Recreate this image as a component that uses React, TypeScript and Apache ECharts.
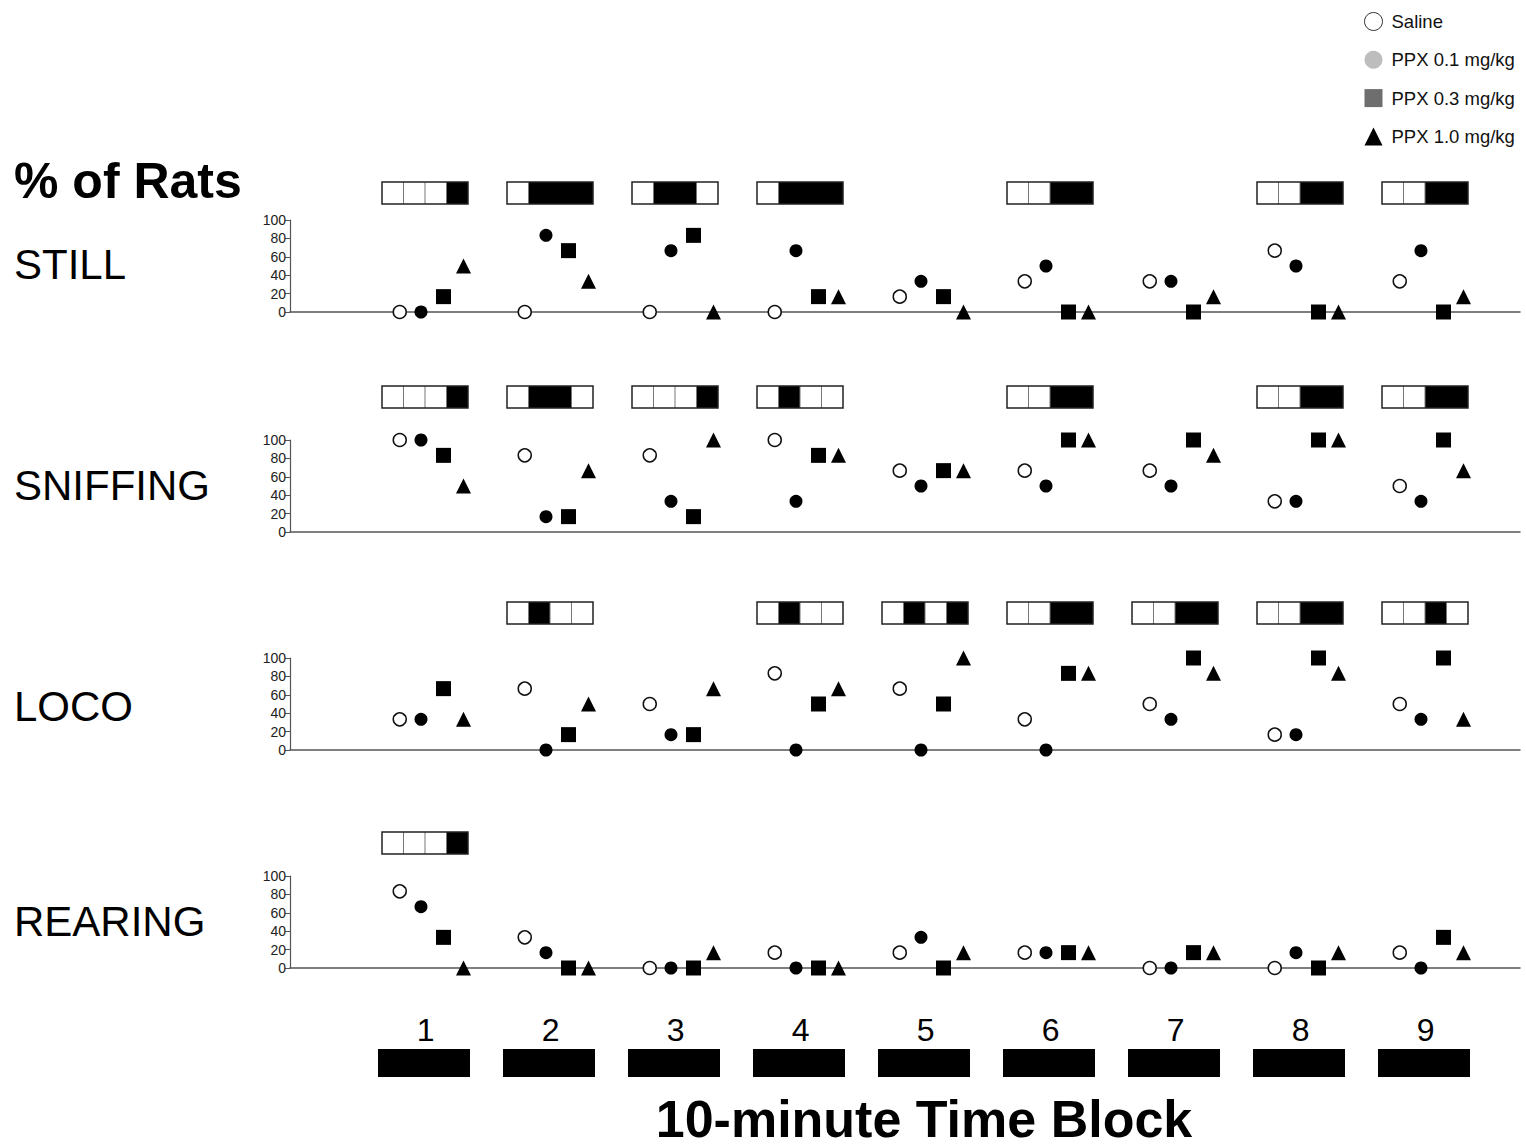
import React, { useEffect, useRef } from "react";
import * as echarts from "echarts";

const blocks = [1, 2, 3, 4, 5, 6, 7, 8, 9];
const blockLabels = ["1", "2", "3", "4", "5", "6", "7", "8", "9"];
const groups = ["Saline", "PPX 0.1 mg/kg", "PPX 0.3 mg/kg", "PPX 1.0 mg/kg"];
const yTicks = [0, 20, 40, 60, 80, 100];
const rowLabels = ["STILL", "SNIFFING", "LOCO", "REARING"];
const yTitle = "% of Rats";
const xTitle = "10-minute Time Block";

// % of rats (n = 6)
const stillSaline = [0, 0, 0, 0, 16.7, 33.3, 33.3, 66.7, 33.3];
const stillP01 = [0, 83.3, 66.7, 66.7, 33.3, 50, 33.3, 50, 66.7];
const stillP03 = [16.7, 66.7, 83.3, 16.7, 16.7, 0, 0, 0, 0];
const stillP10 = [50, 33.3, 0, 16.7, 0, 0, 16.7, 0, 16.7];

const sniffSaline = [100, 83.3, 83.3, 100, 66.7, 66.7, 66.7, 33.3, 50];
const sniffP01 = [100, 16.7, 33.3, 33.3, 50, 50, 50, 33.3, 33.3];
const sniffP03 = [83.3, 16.7, 16.7, 83.3, 66.7, 100, 100, 100, 100];
const sniffP10 = [50, 66.7, 100, 83.3, 66.7, 100, 83.3, 100, 66.7];

const locoSaline = [33.3, 66.7, 50, 83.3, 66.7, 33.3, 50, 16.7, 50];
const locoP01 = [33.3, 0, 16.7, 0, 0, 0, 33.3, 16.7, 33.3];
const locoP03 = [66.7, 16.7, 16.7, 50, 50, 83.3, 100, 100, 100];
const locoP10 = [33.3, 50, 66.7, 66.7, 100, 83.3, 83.3, 83.3, 33.3];

const rearSaline = [83.3, 33.3, 0, 16.7, 16.7, 16.7, 0, 0, 16.7];
const rearP01 = [66.7, 16.7, 0, 0, 33.3, 16.7, 0, 16.7, 0];
const rearP03 = [33.3, 0, 0, 0, 0, 16.7, 16.7, 0, 33.3];
const rearP10 = [0, 0, 16.7, 0, 16.7, 16.7, 16.7, 16.7, 16.7];

// significance indicator cells (Saline, 0.1, 0.3, 1.0); "1" = filled
const stillSig = ["0001", "0111", "0110", "0111", "", "0011", "", "0011", "0011"];
const sniffSig = ["0001", "0110", "0001", "0100", "", "0011", "", "0011", "0011"];
const locoSig = ["", "0100", "", "0100", "0101", "0011", "0011", "0011", "0010"];
const rearSig = ["0001", "", "", "", "", "", "", "", ""];

const panels = [
  { values: [stillSaline, stillP01, stillP03, stillP10], sig: stillSig },
  { values: [sniffSaline, sniffP01, sniffP03, sniffP10], sig: sniffSig },
  { values: [locoSaline, locoP01, locoP03, locoP10], sig: locoSig },
  { values: [rearSaline, rearP01, rearP03, rearP10], sig: rearSig },
];

// layout
const FONT = "'Liberation Sans', Arial, sans-serif";
const gridTops = [220, 440, 658, 876];
const gridH = 92;
const boxGaps = [16, 32, 34, 22];
const rowLabelY = [265, 486, 707, 922];
const offsets = [-0.25, -0.08, 0.1, 0.26];

export default function App() {
  const ref = useRef<HTMLDivElement>(null);
  useEffect(() => {
    if (!ref.current) return;
    const chart = echarts.init(ref.current, null, { renderer: "svg" });

    const grids: any[] = [];
    const xAxes: any[] = [];
    const yAxes: any[] = [];
    const series: any[] = [];

    const symbolStyles = [
      { symbol: "circle", symbolSize: 13, itemStyle: { color: "#fff", borderColor: "#111", borderWidth: 1.5, opacity: 1 } },
      { symbol: "circle", symbolSize: 13, itemStyle: { color: "#000", opacity: 1 } },
      { symbol: "rect", symbolSize: 15, itemStyle: { color: "#000", opacity: 1 } },
      { symbol: "triangle", symbolSize: 15, itemStyle: { color: "#000", opacity: 1 } },
    ];

    panels.forEach((p, pi) => {
      grids.push({ left: 290, right: 6, top: gridTops[pi], height: gridH, containLabel: false });
      xAxes.push({
        type: "value",
        gridIndex: pi,
        min: -0.128,
        max: 9.712,
        axisLine: { show: true, onZero: false, lineStyle: { color: "#555", width: 1.5 } },
        axisTick: { show: false },
        axisLabel: { show: false },
        splitLine: { show: false },
      });
      yAxes.push({
        type: "value",
        gridIndex: pi,
        min: yTicks[0],
        max: yTicks[yTicks.length - 1],
        interval: 20,
        axisLine: { show: true, onZero: false, lineStyle: { color: "#555", width: 1.2 } },
        axisTick: { show: true, length: 5, lineStyle: { color: "#555" } },
        axisLabel: { fontSize: 14, color: "#222", fontFamily: FONT, margin: 4 },
        splitLine: { show: false },
      });
      p.values.forEach((vals, gi) => {
        series.push({
          type: "scatter",
          name: groups[gi],
          xAxisIndex: pi,
          yAxisIndex: pi,
          ...symbolStyles[gi],
          data: blocks.map((b, i) => [b + offsets[gi], vals[i]]),
          z: 3,
        });
      });
      const sig = p.sig;
      const gap = boxGaps[pi];
      series.push({
        type: "custom",
        xAxisIndex: pi,
        yAxisIndex: pi,
        silent: true,
        clip: false,
        encode: { x: 0, y: 1 },
        data: blocks.map((b) => [b, 100]),
        renderItem: (params: any, api: any) => {
          const pat = sig[params.dataIndex];
          if (!pat) return { type: "group", children: [] };
          const c = api.coord([api.value(0) - 0.048, 100]);
          const w = 86;
          const h = 22;
          const cw = w / 4;
          const x0 = Math.round(c[0] - w / 2);
          const y0 = Math.round(c[1] - gap - h);
          const children: any[] = [
            { type: "rect", shape: { x: x0, y: y0, width: w, height: h }, style: { fill: "#fff" } },
          ];
          // merge runs of filled cells
          let k = 0;
          while (k < 4) {
            if (pat[k] === "1") {
              let e = k;
              while (e + 1 < 4 && pat[e + 1] === "1") e++;
              children.push({
                type: "rect",
                shape: { x: x0 + k * cw, y: y0, width: (e - k + 1) * cw, height: h },
                style: { fill: "#000" },
              });
              k = e + 1;
            } else k++;
          }
          for (let j = 1; j < 4; j++) {
            if (pat[j - 1] === "1" && pat[j] === "1") continue;
            children.push({
              type: "line",
              shape: { x1: x0 + j * cw, y1: y0, x2: x0 + j * cw, y2: y0 + h },
              style: { stroke: "#777", lineWidth: 1 },
            });
          }
          children.push({
            type: "rect",
            shape: { x: x0, y: y0, width: w, height: h },
            style: { fill: "none", stroke: "#222", lineWidth: 1.5 },
          });
          return { type: "group", children };
        },
      });
    });

    // bottom block labels and bars (on last panel's axes)
    series.push({
      type: "custom",
      xAxisIndex: 3,
      yAxisIndex: 3,
      silent: true,
      clip: false,
      encode: { x: 0, y: 1 },
      data: blocks.map((b) => [b, 0]),
      renderItem: (params: any, api: any) => {
        const c = api.coord([api.value(0) - 0.05, 0]);
        const cb = api.coord([api.value(0) - 0.056, 0]);
        return {
          type: "group",
          children: [
            {
              type: "text",
              x: c[0] + 1,
              y: c[1] + 62,
              style: {
                text: blockLabels[params.dataIndex],
                fontSize: 32,
                fontFamily: FONT,
                fill: "#000",
                align: "center",
                verticalAlign: "middle",
              },
            },
            {
              type: "rect",
              shape: { x: cb[0] - 46, y: c[1] + 81, width: 92, height: 28 },
              style: { fill: "#000" },
            },
          ],
        };
      },
    });

    const graphic: any[] = [
      {
        type: "text",
        left: 14,
        top: 156,
        style: { text: yTitle, fontSize: 50, fontWeight: "bold", fontFamily: FONT, fill: "#000" },
      },
      ...rowLabels.map((t, i) => ({
        type: "text",
        left: 14,
        top: rowLabelY[i] - 22,
        style: { text: t, fontSize: 42, fontFamily: FONT, fill: "#000" },
      })),
      {
        type: "text",
        x: 924,
        y: 1119,
        style: {
          text: xTitle,
          fontSize: 52,
          fontWeight: "bold",
          fontFamily: FONT,
          fill: "#000",
          align: "center",
          verticalAlign: "middle",
        },
      },
    ];

    chart.setOption({
      animation: false,
      backgroundColor: "#fff",
      grid: grids,
      xAxis: xAxes,
      yAxis: yAxes,
      series,
      graphic,
      legend: {
        orient: "vertical",
        left: 1364,
        top: 12,
        padding: 0,
        itemWidth: 18,
        itemHeight: 18,
        itemGap: 19.3,
        textStyle: { fontSize: 18.5, fontFamily: FONT, color: "#111", padding: [0, 0, 0, 4] },
        data: [
          { name: groups[0], icon: "circle", itemStyle: { color: "#fff", borderColor: "#333", borderWidth: 1 } },
          { name: groups[1], icon: "circle", itemStyle: { color: "#bdbdbd", borderWidth: 0 } },
          { name: groups[2], icon: "rect", itemStyle: { color: "#6e6e6e", borderWidth: 0 } },
          { name: groups[3], icon: "triangle", itemStyle: { color: "#000", borderWidth: 0 } },
        ],
      },
    });
    return () => chart.dispose();
  }, []);
  return (
    <div
      ref={ref}
      style={{ position: "fixed", left: 0, top: 0, width: 1526, height: 1147, background: "#fff" }}
    />
  );
}
